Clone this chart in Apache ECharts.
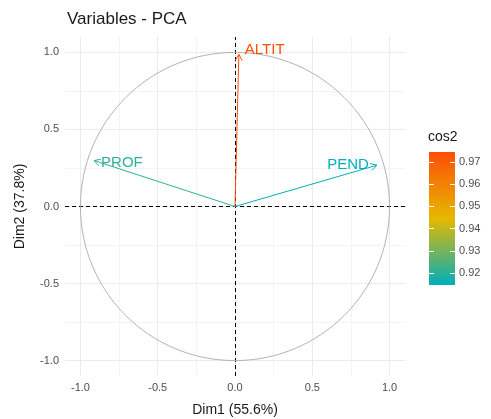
<!DOCTYPE html>
<html>
<head>
<meta charset="utf-8">
<script src="https://cdn.jsdelivr.net/npm/echarts@6/dist/echarts.min.js"></script>
<style>
  html, body { margin: 0; padding: 0; background: #fff; }
  #chart { width: 491px; height: 419px; }
</style>
</head>
<body>
<div id="chart"></div>
<script>
// variables and their coordinates on Dim1 / Dim2, plus cos2 quality
var varNames = ['ALTIT', 'PEND', 'PROF'];
var dim1 = [0.025, 0.918, -0.912];
var dim2 = [0.987, 0.268, 0.298];
var cos2 = [0.9745, 0.9146, 0.9205];

var axisTicks = [-1, -0.5, 0, 0.5, 1];
var gridMajor = [-1, -0.5, 0, 0.5, 1];
var gridMinor = [-0.75, -0.25, 0.25, 0.75];
var cos2Ticks = [0.92, 0.93, 0.94, 0.95, 0.96, 0.97];
var cos2Min = 0.9146, cos2Max = 0.9745;
var gradientCols = ['#00AFBB', '#E7B800', '#FC4E07'];

// label placement next to the arrow tips (pixels)
var labelPos = [
    { dx: 6, dy: -5, align: 'left' },
    { dx: -8, dy: 0, align: 'right' },
    { dx: 7, dy: 2, align: 'left' }
];

var font = 'Liberation Sans';
var chart = echarts.init(document.getElementById('chart'));

var gridLines = [];
gridMinor.forEach(function (v) {
    gridLines.push({ xAxis: v, lineStyle: { color: '#f4f4f4', width: 1, type: 'solid' } });
    gridLines.push({ yAxis: v, lineStyle: { color: '#f4f4f4', width: 1, type: 'solid' } });
});
gridMajor.forEach(function (v) {
    gridLines.push({ xAxis: v, lineStyle: { color: '#ebebeb', width: 1, type: 'solid' } });
    gridLines.push({ yAxis: v, lineStyle: { color: '#ebebeb', width: 1, type: 'solid' } });
});

var arrowData = varNames.map(function (n, i) {
    return [dim1[i], dim2[i], cos2[i], n];
});

function renderArrow(params, api) {
    var i = params.dataIndex;
    var o = api.coord([0, 0]);
    var p = api.coord([api.value(0), api.value(1)]);
    var color = api.visual('color');
    var ang = Math.atan2(p[1] - o[1], p[0] - o[0]);
    var len = 7, a = Math.PI / 6;
    var h1 = [p[0] - len * Math.cos(ang - a), p[1] - len * Math.sin(ang - a)];
    var h2 = [p[0] - len * Math.cos(ang + a), p[1] - len * Math.sin(ang + a)];
    var lp = labelPos[i];
    return {
        type: 'group',
        children: [
            { type: 'line', shape: { x1: o[0], y1: o[1], x2: p[0], y2: p[1] },
              style: { stroke: color, lineWidth: 1 } },
            { type: 'polyline', shape: { points: [h1, p, h2] },
              style: { stroke: color, lineWidth: 1, fill: null } },
            { type: 'text', x: p[0] + lp.dx, y: p[1] + lp.dy,
              style: { text: varNames[i], fill: color, font: '15px ' + font,
                       align: lp.align, verticalAlign: 'middle' } }
        ]
    };
}

function renderCircle(params, api) {
    var c = api.coord([0, 0]);
    var r = api.size([1, 1]);
    return {
        type: 'ellipse',
        shape: { cx: c[0], cy: c[1], rx: r[0], ry: r[1] },
        style: { stroke: '#b3b3b3', fill: null, lineWidth: 1 }
    };
}

// colour bar fill, bottom (low cos2) to top (high cos2)
var barGradient = new echarts.graphic.LinearGradient(0, 1, 0, 0, gradientCols.map(function (c, i) {
    return { offset: i / (gradientCols.length - 1), color: c };
}));

var option = {
    backgroundColor: '#fff',
    animation: false,
    title: {
        text: 'Variables - PCA',
        left: 62, top: 6,
        textStyle: { fontFamily: font, fontSize: 17, fontWeight: 'normal', color: '#1a1a1a' }
    },
    graphic: [{
        type: 'text', left: 428, top: 130,
        style: { text: 'cos2', font: '14px ' + font, fill: '#1a1a1a' }
    }],
    grid: [
        { left: 65, right: 86, top: 37, bottom: 43, outerBoundsMode: 'none' },
        { left: 429, top: 152, width: 26, height: 133, outerBoundsMode: 'none' }
    ],
    xAxis: [{
        type: 'value', min: -1.1, max: 1.1,
        name: 'Dim1 (55.6%)', nameLocation: 'middle', nameGap: 27,
        nameTextStyle: { fontFamily: font, fontSize: 14, color: '#1a1a1a' },
        axisLine: { show: false },
        axisTick: { show: true, customValues: axisTicks, length: 3, lineStyle: { color: '#333' } },
        axisLabel: { customValues: axisTicks, margin: 6, fontFamily: font, fontSize: 11, color: '#4d4d4d',
                     formatter: function (v) { return v.toFixed(1); } },
        splitLine: { show: false }
    }, {
        gridIndex: 1, type: 'category', data: ['cos2'], show: false
    }],
    yAxis: [{
        type: 'value', min: -1.1, max: 1.1,
        name: 'Dim2 (37.8%)', nameLocation: 'middle', nameGap: 38,
        nameTextStyle: { fontFamily: font, fontSize: 14, color: '#1a1a1a' },
        axisLine: { show: false },
        axisTick: { show: true, customValues: axisTicks, length: 3, lineStyle: { color: '#333' } },
        axisLabel: { customValues: axisTicks, margin: 6, fontFamily: font, fontSize: 11, color: '#4d4d4d',
                     formatter: function (v) { return v.toFixed(1); } },
        splitLine: { show: false }
    }, {
        gridIndex: 1, type: 'value', min: cos2Min, max: cos2Max, position: 'right', z: 10,
        axisLine: { show: false },
        axisTick: { show: true, inside: true, length: 5, customValues: cos2Ticks,
                    lineStyle: { color: '#fff', width: 1 } },
        axisLabel: { customValues: cos2Ticks, margin: 4, fontFamily: font, fontSize: 11, color: '#4d4d4d',
                     formatter: function (v) { return v.toFixed(2); } },
        splitLine: { show: false }
    }, {
        gridIndex: 1, type: 'value', min: cos2Min, max: cos2Max, position: 'left', z: 10,
        axisLine: { show: false },
        axisTick: { show: true, inside: true, length: 5, customValues: cos2Ticks,
                    lineStyle: { color: '#fff', width: 1 } },
        axisLabel: { show: false },
        splitLine: { show: false }
    }],
    visualMap: {
        type: 'continuous',
        show: false,
        seriesIndex: 2,
        dimension: 2,
        min: cos2Min, max: cos2Max,
        inRange: { color: gradientCols }
    },
    series: [{
        type: 'line', data: [], silent: true, z: 1,
        markLine: {
            silent: true, symbol: 'none', label: { show: false }, animation: false, z: 1,
            data: gridLines.concat([
                { xAxis: 0, lineStyle: { color: '#000', type: [4, 3], width: 1 } },
                { yAxis: 0, lineStyle: { color: '#000', type: [4, 3], width: 1 } }
            ])
        }
    }, {
        type: 'custom', silent: true, z: 6,
        data: [[0, 0]],
        renderItem: renderCircle
    }, {
        type: 'custom', silent: true, z: 8,
        data: arrowData,
        encode: { x: 0, y: 1 },
        renderItem: renderArrow
    }, {
        type: 'bar', xAxisIndex: 1, yAxisIndex: 1, silent: true, z: 2,
        barWidth: '100%',
        data: [cos2Max],
        itemStyle: { color: barGradient }
    }]
};

chart.setOption(option);
</script>
</body>
</html>
